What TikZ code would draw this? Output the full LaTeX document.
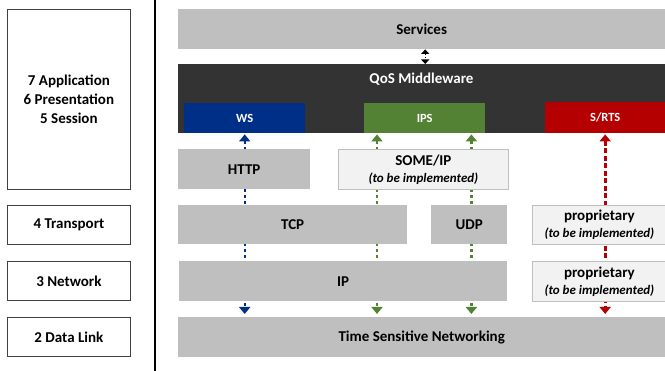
\documentclass[tikz,border=0pt]{standalone}
\usepackage{fontspec}
\setmainfont{Carlito}
\usetikzlibrary{arrows.meta, backgrounds}

\definecolor{boxgray}{HTML}{BFBFBF}
\definecolor{paleface}{HTML}{F2F2F2}
\definecolor{mwdark}{HTML}{333333}
\definecolor{wsblue}{RGB}{0,47,135}
\definecolor{ipsgreen}{RGB}{84,130,53}
\definecolor{rtsred}{RGB}{180,0,0}

\newcommand{\tbifont}{\bfseries\itshape\fontsize{13}{15}\selectfont}

\tikzset{
  osi/.style={rectangle, draw=black!75, line width=0.8pt, anchor=north west, inner sep=0pt,
    align=center, font=\bfseries\fontsize{15}{19}\selectfont},
  block/.style={rectangle, fill=boxgray, anchor=north west, inner sep=0pt,
    align=center, font=\bfseries\fontsize{15}{19}\selectfont},
  planned/.style={block, fill=paleface, draw=boxgray, line width=0.8pt},
  proto/.style={rectangle, anchor=north west, inner sep=0pt, text=white,
    font=\bfseries\fontsize{12.5}{14}\selectfont},
  link/.style={line width=2.4pt, dash pattern=on 3pt off 3pt,
    {Triangle[width=11pt,length=7pt]}-{Triangle[width=11pt,length=7pt]}}
}

\begin{document}
\begin{tikzpicture}[x=1pt, y=-1pt]
    \useasboundingbox (0,0) rectangle (665,371);

    % OSI layers on the left
    \node[osi, minimum width=123, minimum height=180] (osiapp) at (7,9)
      {7 Application\\6 Presentation\\5 Session};
    \node[osi, minimum width=123, minimum height=39] (ositrans) at (7,205) {4 Transport};
    \node[osi, minimum width=123, minimum height=39] (osinet) at (7,261) {3 Network};
    \node[osi, minimum width=123, minimum height=39] (osilink) at (7,317) {2 Data Link};

    % separator
    \draw[line width=1.5pt] (155,0) -- (155,371);

    % services and middleware
    \node[block, minimum width=487, minimum height=40] (services) at (178,9) {Services};
    \node[rectangle, fill=mwdark, anchor=north west, inner sep=0pt,
      minimum width=487, minimum height=69] (qos) at (178,64) {};
    \node[text=white, font=\bfseries\fontsize{15}{19}\selectfont] (qoslabel) at (421.5,79) {QoS Middleware};

    \node[proto, fill=wsblue, minimum width=121, minimum height=30] (ws) at (184,103) {WS};
    \node[proto, fill=ipsgreen, minimum width=121, minimum height=30] (ips) at (364,103) {IPS};
    \node[proto, fill=rtsred, minimum width=120, minimum height=31] (rts) at (545,102) {S/RTS};

    % protocol stack
    \node[planned, minimum width=170, minimum height=40] (someip) at (338,149)
      {SOME/IP\\[-2pt]{\tbifont(to be implemented)}};
    \node[block, minimum width=132, minimum height=40] (http) at (178,149) {HTTP};
    \node[block, minimum width=229, minimum height=39] (tcp) at (178,205) {TCP};
    \node[block, minimum width=76, minimum height=39] (udp) at (431,205) {UDP};
    \node[planned, minimum width=134, minimum height=39] (prop1) at (532,205)
      {proprietary\\[-2pt]{\tbifont(to be implemented)}};
    \node[block, minimum width=328, minimum height=40] (ip) at (179,261) {IP};
    \node[planned, minimum width=134, minimum height=40] (prop2) at (532,261)
      {proprietary\\[-2pt]{\tbifont(to be implemented)}};
    \node[block, minimum width=487, minimum height=40] (tsn) at (178,317) {Time Sensitive Networking};

    % connectors behind the boxes
    \coordinate (ipsa) at ([xshift=13pt]ips.south west);
    \coordinate (ipsb) at ([xshift=-14pt]ips.south east);
    \coordinate (svc) at ([xshift=3.5pt]services.south);
    \begin{scope}[on background layer]
      \draw[link, wsblue, shorten <=1pt, shorten >=3pt] (ws.south) -- (ws.south |- tsn.north);
      \foreach \p in {ipsa, ipsb}
        \draw[link, ipsgreen, shorten <=1pt, shorten >=3pt] (\p) -- (\p |- tsn.north);
      \draw[link, rtsred, line width=3pt, dash pattern=on 5pt off 2.5pt, shorten <=1pt, shorten >=3pt]
        (rts.south) -- (rts.south |- tsn.north);
      \draw[line width=1.4pt, dash pattern=on 1.5pt off 1.5pt,
        {Triangle[width=8pt,length=4.5pt]}-{Triangle[width=8pt,length=4.5pt]}]
        (svc) -- (svc |- qos.north);
    \end{scope}
\end{tikzpicture}
\end{document}
